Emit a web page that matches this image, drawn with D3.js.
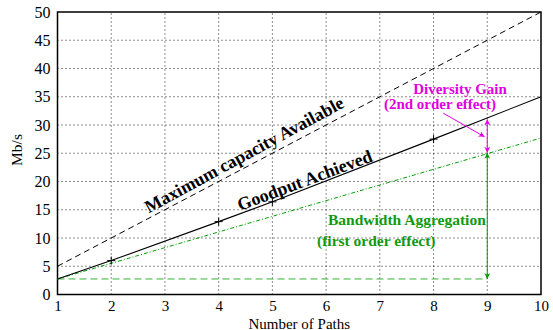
<!DOCTYPE html>
<html>
<head>
<meta charset="utf-8">
<script src="https://cdn.jsdelivr.net/npm/d3@7"></script>
<style>
  body { margin: 0; background: #fff; }
</style>
</head>
<body>
<div id="chart"></div>
<script>
// number of paths on the x axis
const paths = [1, 2, 3, 4, 5, 6, 7, 8, 9, 10];
const yTicks = [0, 5, 10, 15, 20, 25, 30, 35, 40, 45, 50];

// maximum capacity available (dashed black)
const capacityX = [1, 10];
const capacityY = [5, 50];

// goodput achieved (solid black, + markers)
const goodputX = [1, 2, 4, 5, 8, 10];
const goodputY = [2.75, 6.0, 12.9, 16.4, 27.5, 35.0];
const markerX = [2, 4, 5, 8];
const markerY = [6.0, 12.9, 16.4, 27.5];

// bandwidth aggregation (green dash-dot)
const aggX = [1, 10];
const aggY = [2.75, 27.7];

// single path baseline (green dashed)
const baseX = [1, 9];
const baseY = [2.75, 2.75];

// arrows at x = 9
const diversityArrow = [31.0, 25.1];
const aggregationArrow = [25.1, 2.75];

const serif = "'Liberation Serif', 'Times New Roman', Times, serif";

const width = 553, height = 330,
    margin = {top: 12, right: 12, bottom: 35.5, left: 57.5};

const svg = d3.select("#chart").append("svg")
    .attr("width", width)
    .attr("height", height)
    .attr("font-family", serif);

const x = d3.scaleLinear().domain([1, 10]).range([margin.left, width - margin.right]);
const y = d3.scaleLinear().domain([0, 50]).range([height - margin.bottom, margin.top]);

const defs = svg.append("defs");
function marker(id, color) {
    defs.append("marker")
        .attr("id", id)
        .attr("viewBox", "0 0 10 10")
        .attr("refX", 10).attr("refY", 5)
        .attr("markerWidth", 9).attr("markerHeight", 6)
        .attr("markerUnits", "userSpaceOnUse")
        .attr("orient", "auto-start-reverse")
        .append("path")
        .attr("d", "M0,0 L10,5 L0,10 L3,5 Z")
        .attr("fill", color);
}
marker("mag", "#e000e0");
marker("grn", "#00a000");

// grid
svg.append("g").selectAll("line")
    .data(paths.slice(1, -1))
    .join("line")
    .attr("x1", d => x(d)).attr("x2", d => x(d))
    .attr("y1", y(0)).attr("y2", y(50))
    .attr("stroke", "#000").attr("stroke-width", 0.9)
    .attr("stroke-dasharray", "1,3");
svg.append("g").selectAll("line")
    .data(yTicks.slice(1, -1))
    .join("line")
    .attr("x1", x(1)).attr("x2", x(10))
    .attr("y1", d => y(d)).attr("y2", d => y(d))
    .attr("stroke", "#000").attr("stroke-width", 0.9)
    .attr("stroke-dasharray", "1,3");

// axes
const xAxis = svg.append("g")
    .attr("transform", `translate(0,${y(0)})`)
    .call(d3.axisBottom(x).tickValues(paths).tickSize(0).tickPadding(5.5));
const yAxis = svg.append("g")
    .attr("transform", `translate(${x(1)},0)`)
    .call(d3.axisLeft(y).tickValues(yTicks).tickSize(0).tickPadding(7));
xAxis.attr("font-size", 15);
yAxis.attr("font-size", 16);
[xAxis, yAxis].forEach(g => {
    g.attr("font-family", serif);
    g.select(".domain").remove();
    g.selectAll("text").attr("fill", "#000");
});

// frame
svg.append("rect")
    .attr("x", x(1)).attr("y", y(50))
    .attr("width", x(10) - x(1)).attr("height", y(0) - y(50))
    .attr("fill", "none").attr("stroke", "#000").attr("stroke-width", 1.5);

const line = d3.line().x(d => x(d[0])).y(d => y(d[1]));

svg.append("path")
    .attr("d", line(d3.zip(baseX, baseY)))
    .attr("fill", "none").attr("stroke", "#33b033").attr("stroke-width", 1)
    .attr("stroke-dasharray", "7,4");

svg.append("path")
    .attr("d", line(d3.zip(aggX, aggY)))
    .attr("fill", "none").attr("stroke", "#00a000").attr("stroke-width", 1)
    .attr("stroke-dasharray", "4,2,1,2");

svg.append("path")
    .attr("d", line(d3.zip(capacityX, capacityY)))
    .attr("fill", "none").attr("stroke", "#000").attr("stroke-width", 1)
    .attr("stroke-dasharray", "6,4");

svg.append("path")
    .attr("d", line(d3.zip(goodputX, goodputY)))
    .attr("fill", "none").attr("stroke", "#000").attr("stroke-width", 1.1);

svg.append("g").selectAll("path")
    .data(d3.zip(markerX, markerY))
    .join("path")
    .attr("d", d => `M${x(d[0]) - 4},${y(d[1])}h8M${x(d[0])},${y(d[1]) - 4}v8`)
    .attr("stroke", "#000").attr("stroke-width", 1);

// arrows
svg.append("line")
    .attr("x1", x(9)).attr("x2", x(9))
    .attr("y1", y(diversityArrow[0])).attr("y2", y(diversityArrow[1]))
    .attr("stroke", "#e000e0").attr("stroke-width", 1)
    .attr("marker-start", "url(#mag)").attr("marker-end", "url(#mag)");
svg.append("line")
    .attr("x1", x(9)).attr("x2", x(9))
    .attr("y1", y(aggregationArrow[0])).attr("y2", y(aggregationArrow[1]))
    .attr("stroke", "#00a000").attr("stroke-width", 1)
    .attr("marker-start", "url(#grn)").attr("marker-end", "url(#grn)");
svg.append("line")
    .attr("x1", x(8.18)).attr("y1", y(32.1))
    .attr("x2", x(8.95)).attr("y2", y(27.9))
    .attr("stroke", "#e000e0").attr("stroke-width", 1)
    .attr("marker-end", "url(#mag)");

// annotations
function label(text, px, py, opts) {
    const t = svg.append("text")
        .attr("x", px).attr("y", py)
        .attr("font-family", serif)
        .attr("font-size", opts.size)
        .attr("font-weight", "bold")
        .attr("fill", opts.color || "#000")
        .attr("text-anchor", opts.anchor || "start")
        .text(text);
    if (opts.rotate) t.attr("transform", `rotate(${opts.rotate},${px},${py})`);
    return t;
}
label("Maximum capacity Available", x(4.53), y(23.8), {size: 18, anchor: "middle", rotate: -28.5});
label("Goodput Achieved", x(5.64), y(19.2), {size: 18, anchor: "middle", rotate: -20.5});
label("Diversity Gain", 460, 94, {size: 15, anchor: "middle", color: "#e000e0"});
label("(2nd order effect)", 440, 109, {size: 15, anchor: "middle", color: "#e000e0"});
label("Bandwidth Aggregation", 328, 225, {size: 15.5, color: "#109a10"});
label("(first order effect)", 317, 246, {size: 15.5, color: "#109a10"});

// axis titles
svg.append("text")
    .attr("x", (x(1) + x(10)) / 2).attr("y", 328.5)
    .attr("text-anchor", "middle").attr("font-size", 15)
    .text("Number of Paths");
svg.append("text")
    .attr("transform", `translate(22,150) rotate(-90)`)
    .attr("text-anchor", "middle").attr("font-size", 15.5)
    .text("Mb/s");
</script>
</body>
</html>
